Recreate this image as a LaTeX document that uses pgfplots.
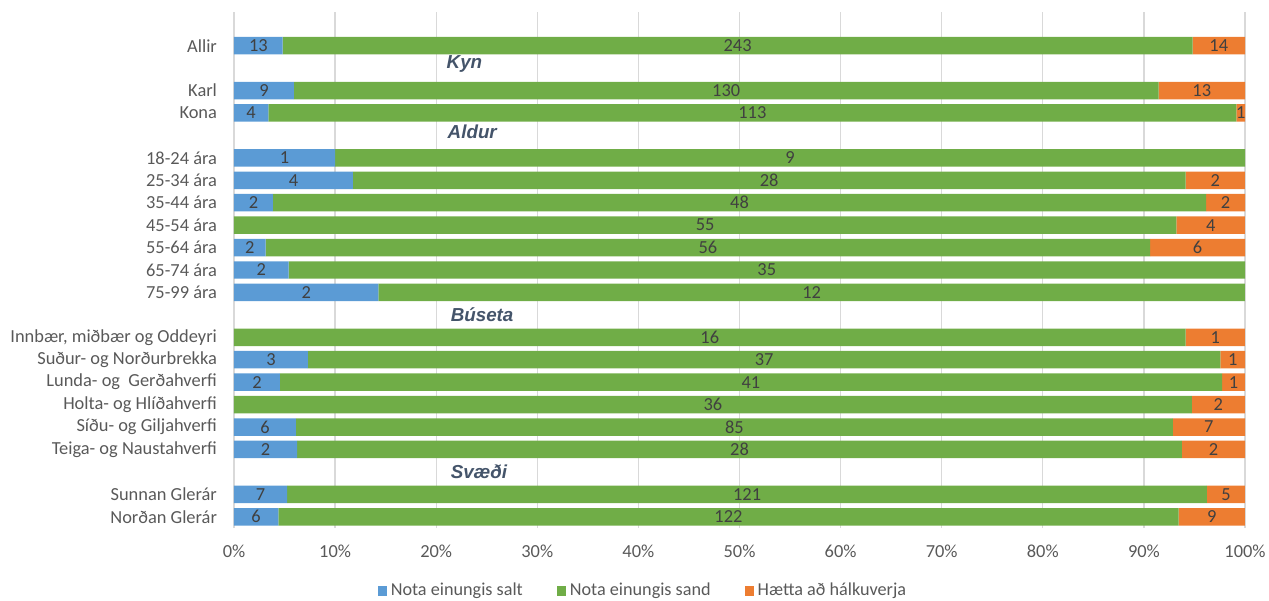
\documentclass[border=0pt]{standalone}
\usepackage{pgfplots}
\usepackage{pgfplotstable}
\pgfplotsset{compat=1.18}
\usepackage{fontspec}
\setmainfont{Carlito}
\newfontfamily\hdrfont{Liberation Sans}
\definecolor{cblue}{HTML}{5B9BD5}
\definecolor{cgreen}{HTML}{70AD47}
\definecolor{corange}{HTML}{ED7D31}
\definecolor{ctext}{HTML}{404040}
\definecolor{ctick}{HTML}{595959}
\definecolor{chdr}{HTML}{44546A}
\definecolor{cgrid}{HTML}{D9D9D9}
\pgfplotstableread{
y a b c
21 13 243 14
19 9 130 13
18 4 113 1
16 1 9 0
15 4 28 2
14 2 48 2
13 0 55 4
12 2 56 6
11 2 35 0
10 2 12 0
8 0 16 1
7 3 37 1
6 2 41 1
5 0 36 2
4 6 85 7
3 2 28 2
1 7 121 5
0 6 122 9
}\data
\begin{document}
\begin{tikzpicture}
\path[use as bounding box] (-117pt,-36pt) rectangle (517.5pt,264pt);
\begin{axis}[
  at={(0pt,0pt)}, anchor=south west,
  scale only axis, width=505.5pt, height=258pt,
  xbar stacked, bar width=0.78,
  xmin=0, xmax=100, ymin=-0.5, ymax=22.5,
  xtick={0,10,...,100}, xticklabel={\pgfmathprintnumber{\tick}\%},
  /pgf/number format/assume math mode=true,
  ytick={21,19,18,16,15,14,13,12,11,10,8,7,6,5,4,3,1,0},
  yticklabels={Allir,Karl,Kona,18-24 ára,25-34 ára,35-44 ára,45-54 ára,55-64 ára,65-74 ára,75-99 ára,{Innbær, miðbær og Oddeyri},Suður- og Norðurbrekka,Lunda- og\ \ Gerðahverfi,Holta- og Hlíðahverfi,Síðu- og Giljahverfi,Teiga- og Naustahverfi,Sunnan Glerár,Norðan Glerár},
  tick style={draw=none},
  axis line style={draw=none},
  xmajorgrids, grid style={cgrid, line width=0.6pt},
  ticklabel style={font=\fontsize{9.2}{10}\selectfont, text=ctick},
  xticklabel style={yshift=-5pt},
  yticklabel style={xshift=-5pt},
  legend style={at={(0.4055,-0.122)}, anchor=center, draw=none, legend columns=-1,
    font=\fontsize{9.1}{10}\selectfont, text=ctick, fill=none,
    /tikz/every even column/.append style={column sep=15pt}},
  legend image code/.code={\fill[#1] (0pt,-2.6pt) rectangle (4.5pt,2.6pt);},
  nodes near coords={\ifnum\pgfplotspointmeta>0 \pgfplotspointmeta\fi},
  point meta=explicit symbolic,
  every node near coord/.append style={font=\fontsize{9.2}{10}\selectfont, text=ctext},
  clip=false,
]
\addplot[fill=cblue, draw=none] table[y=y, x expr={100*\thisrow{a}/(\thisrow{a}+\thisrow{b}+\thisrow{c})}, meta=a]{\data};
\addplot[fill=cgreen, draw=none] table[y=y, x expr={100*\thisrow{b}/(\thisrow{a}+\thisrow{b}+\thisrow{c})}, meta=b]{\data};
\addplot[fill=corange, draw=none] table[y=y, x expr={100*\thisrow{c}/(\thisrow{a}+\thisrow{b}+\thisrow{c})}, meta=c]{\data};
\legend{Nota einungis salt, Nota einungis sand, Hætta að hálkuverja}
\node[anchor=west, inner sep=0pt, font=\hdrfont\bfseries\itshape\fontsize{9.4}{10}\selectfont, text=chdr] at (axis cs:21.0,20.2) {Kyn};
\node[anchor=west, inner sep=0pt, font=\hdrfont\bfseries\itshape\fontsize{9.4}{10}\selectfont, text=chdr] at (axis cs:21.1,17.17) {Aldur};
\node[anchor=west, inner sep=0pt, font=\hdrfont\bfseries\itshape\fontsize{9.4}{10}\selectfont, text=chdr] at (axis cs:21.4,8.99) {Búseta};
\node[anchor=west, inner sep=0pt, font=\hdrfont\bfseries\itshape\fontsize{9.4}{10}\selectfont, text=chdr] at (axis cs:21.4,2.0) {Svæði};
\end{axis}
\end{tikzpicture}
\end{document}
